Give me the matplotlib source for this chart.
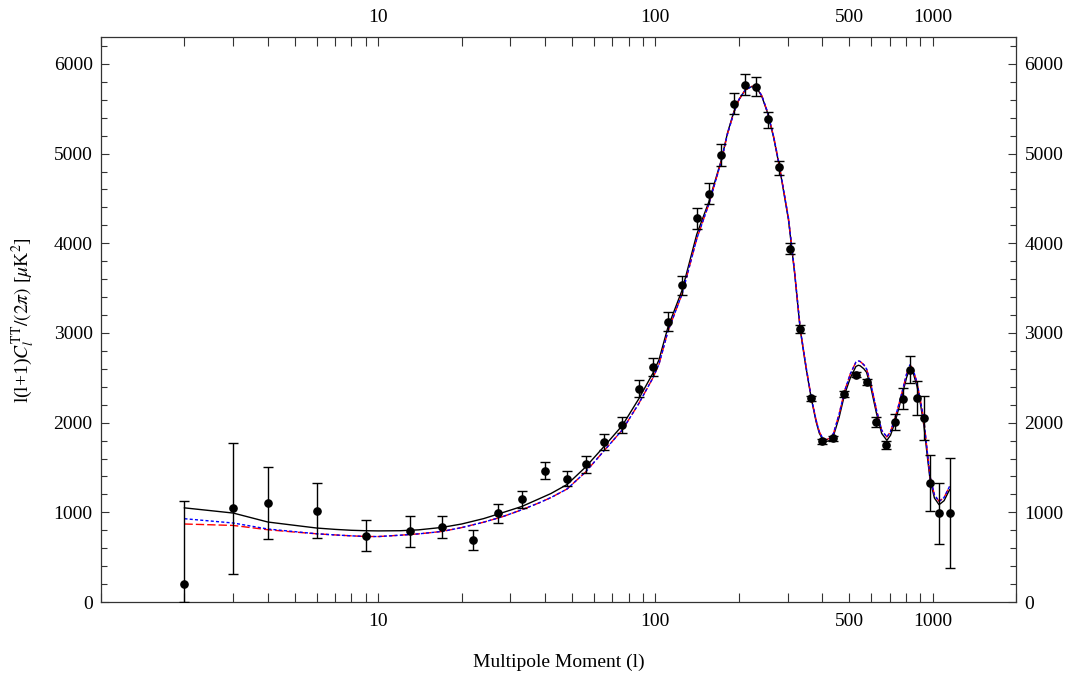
import matplotlib
matplotlib.use("Agg")
import matplotlib.pyplot as plt
from matplotlib.ticker import FixedLocator, NullFormatter

plt.rcParams['font.family'] = ['Liberation Serif', 'DejaVu Serif']
plt.rcParams['mathtext.fontset'] = 'stix'

# ---- binned data points: multipole, value, upper end, lower end of error bar ----
ell = [2, 3, 4, 6, 9, 13, 17, 22, 27, 33, 40, 48, 56, 65, 76, 87, 98, 111, 125,
       141, 156, 173, 192, 211, 231, 254, 280, 305, 333, 365, 399, 439, 481, 529,
       578, 627, 679, 730, 780, 829, 879, 931, 979, 1055, 1151]
cl = [200, 1045, 1103, 1018, 739, 787, 836, 691, 988, 1145, 1464, 1375, 1534,
      1779, 1977, 2378, 2623, 3122, 3530, 4277, 4552, 4983, 5555, 5764, 5741,
      5385, 4845, 3939, 3045, 2270, 1790, 1824, 2319, 2534, 2453, 2007, 1754,
      2007, 2263, 2590, 2270, 2047, 1327, 992, 992]
cl_hi = [1125, 1777, 1505, 1327, 910, 955, 955, 798, 1088, 1241, 1556, 1464, 1623,
         1873, 2066, 2478, 2720, 3229, 3638, 4388, 4671, 5106, 5681, 5886, 5856,
         5469, 4920, 4002, 3090, 2300, 1815, 1850, 2350, 2565, 2490, 2060, 1800,
         2096, 2386, 2738, 2459, 2292, 1642, 1327, 1605]
cl_lo = [0, 315, 706, 713, 568, 617, 714, 575, 884, 1048, 1375, 1289, 1438,
         1690, 1884, 2285, 2523, 3025, 3426, 4162, 4437, 4867, 5436, 5656, 5637,
         5288, 4764, 3883, 3000, 2240, 1765, 1800, 2290, 2505, 2420, 1955, 1710,
         1921, 2155, 2441, 2080, 1802, 1010, 650, 379]

# ---- model curves ----
ell_model = [2, 3, 4, 5, 6, 7, 8, 9, 10, 12, 14, 17, 20, 24, 28, 33, 38, 42, 48,
             56, 65, 76, 87, 98, 103, 111, 125, 141, 156, 173, 182, 192, 200, 211,
             223, 231, 242, 254, 267, 280, 290, 302, 318, 333, 349, 365, 380, 390,
             400, 413, 425, 439, 460, 481, 505, 529, 540, 548, 565, 578, 600, 627,
             655, 684, 705, 730, 755, 780, 805, 828, 850, 879, 905, 931, 955, 979,
             1015, 1055, 1100, 1151]
model_black = [1050, 992, 892, 855, 825, 810, 800, 795, 793, 795, 805, 832, 870,
               930, 995, 1066, 1150, 1210, 1310, 1505, 1728, 1969, 2263, 2553,
               2700, 3065, 3482, 4100, 4465, 4931, 5230, 5469, 5600, 5711, 5748,
               5741, 5640, 5451, 5180, 4856, 4580, 4262, 3660, 3036, 2620, 2270,
               2010, 1884, 1820, 1790, 1800, 1854, 2060, 2311, 2500, 2627, 2640,
               2634, 2600, 2560, 2380, 2107, 1880, 1802, 1860, 1996, 2160, 2330,
               2500, 2609, 2560, 2404, 2200, 1958, 1650, 1363, 1160, 1085, 1130,
               1252]
model_red = [870, 854, 806, 780, 761, 748, 738, 731, 730, 745, 760, 787, 830, 890,
             950, 1029, 1105, 1165, 1260, 1450, 1680, 1920, 2210, 2500, 2650,
             3020, 3440, 4050, 4440, 4920, 5220, 5460, 5600, 5710, 5750, 5745,
             5645, 5460, 5190, 4870, 4595, 4280, 3675, 3050, 2635, 2280, 2025,
             1900, 1835, 1810, 1825, 1880, 2095, 2350, 2545, 2676, 2688, 2682,
             2645, 2597, 2420, 2144, 1915, 1840, 1900, 2040, 2200, 2367, 2540,
             2645, 2598, 2441, 2240, 2013, 1700, 1400, 1195, 1122, 1165, 1289]
model_blue = [929, 881, 814, 785, 761, 748, 738, 731, 730, 745, 760, 787, 830, 890,
              950, 1029, 1105, 1165, 1260, 1450, 1680, 1920, 2210, 2500, 2650,
              3020, 3440, 4050, 4440, 4920, 5220, 5460, 5600, 5710, 5750, 5745,
              5645, 5460, 5190, 4870, 4595, 4280, 3675, 3050, 2635, 2280, 2025,
              1900, 1835, 1810, 1825, 1880, 2095, 2350, 2545, 2676, 2688, 2682,
              2645, 2597, 2420, 2144, 1915, 1840, 1900, 2040, 2200, 2367, 2540,
              2645, 2598, 2441, 2240, 2013, 1700, 1400, 1195, 1122, 1165, 1289]

x_major = [10, 100, 500, 1000]
x_major_labels = ['10', '100', '500', '1000']
x_minor = [1, 2, 3, 4, 5, 6, 7, 8, 9, 20, 30, 40, 50, 60, 70, 80, 90,
           200, 300, 400, 600, 700, 800, 900, 2000]
y_major = [0, 1000, 2000, 3000, 4000, 5000, 6000]

fig = plt.figure(figsize=(10.71, 6.75), dpi=100)
ax = fig.add_axes([0.0943, 0.1081, 0.8544, 0.8371])

ax.plot(ell_model, model_black, color='black', lw=1.0, zorder=2)
ax.plot(ell_model, model_red, color='red', lw=1.0, ls=(0, (6, 2.2)), zorder=3)
ax.plot(ell_model, model_blue, color='blue', lw=1.0, ls=(0, (2.2, 1.6)), zorder=4)

yerr = [[c - lo for c, lo in zip(cl, cl_lo)], [hi - c for c, hi in zip(cl, cl_hi)]]
ax.errorbar(ell, cl, yerr=yerr, fmt='o', color='black', ms=5.2, elinewidth=1.0,
            capsize=3.3, capthick=1.0, zorder=5)

ax.set_xscale('log')
ax.set_xlim(1, 2000)
ax.set_ylim(0, 6300)

ax.xaxis.set_major_locator(FixedLocator(x_major))
ax.set_xticklabels(x_major_labels)
ax.xaxis.set_minor_locator(FixedLocator(x_minor))
ax.xaxis.set_minor_formatter(NullFormatter())
ax.yaxis.set_major_locator(FixedLocator(y_major))
ax.yaxis.set_minor_locator(FixedLocator(list(range(200, 6300, 200))))

ax.tick_params(axis='both', which='both', direction='in', top=True, right=True,
               labeltop=True, labelright=True, labelsize=14, width=0.8, color='#333333')
ax.tick_params(axis='x', which='both', length=6.5, pad=8)
ax.tick_params(axis='y', which='major', length=6, pad=6)
ax.tick_params(axis='y', which='minor', length=4.5)

for s in ax.spines.values():
    s.set_linewidth(0.9)
    s.set_color('#333333')

ax.set_xlabel('Multipole Moment (l)', fontsize=14, labelpad=17)
ax.set_ylabel(r'l(l+1)$C_l^{\mathrm{TT}}/(2\pi)$ [$\mu$K$^2$]', fontsize=14, labelpad=12)

fig.savefig('out.png', dpi=100)
